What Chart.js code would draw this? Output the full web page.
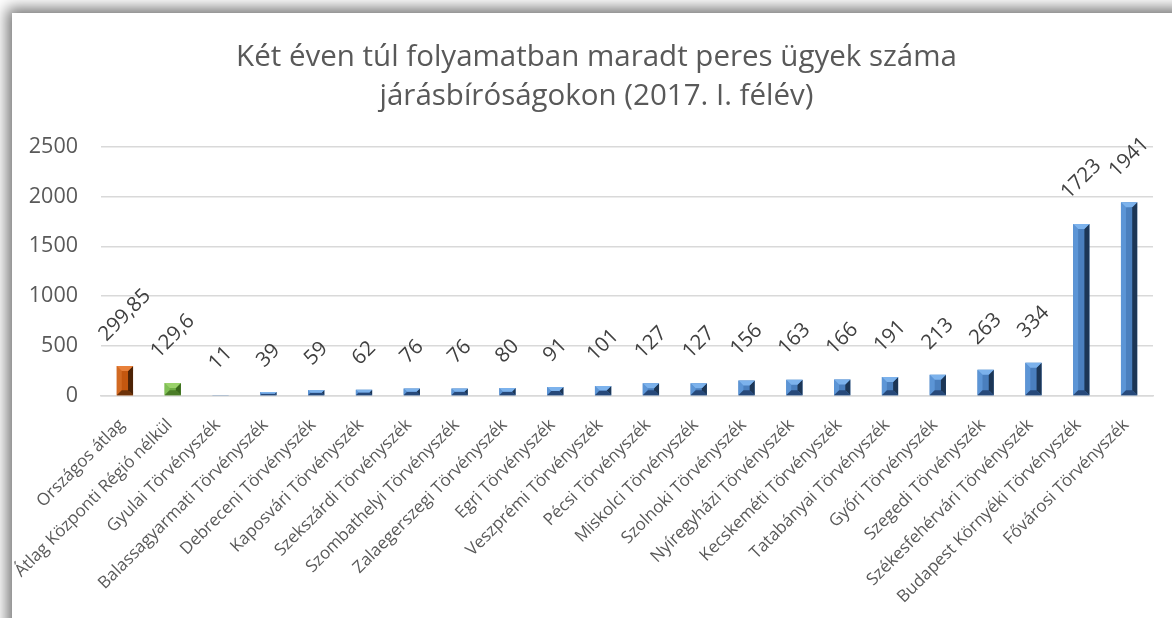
<!DOCTYPE html>
<html>
<head>
<meta charset="utf-8">
<script src="https://cdn.jsdelivr.net/npm/chart.js@4.4.1/dist/chart.umd.min.js"></script>
<style>
  html, body { margin: 0; padding: 0; background: #ffffff; overflow: hidden; }
  #card { position: absolute; left: 12px; top: 13px; width: 1200px; height: 650px; background: #fff;
          box-shadow: -2px -2px 14px 3px rgba(0,0,0,0.55); }
  #c { position: absolute; left: 0; top: 0; }
</style>
</head>
<body>
<div id="card"></div>
<canvas id="c" width="1172" height="618"></canvas>
<script>
const titleLines = ["Két éven túl folyamatban maradt peres ügyek száma", "járásbíróságokon (2017. I. félév)"];
const categories = [
  "Országos átlag",
  "Átlag Központi Régió nélkül",
  "Gyulai Törvényszék",
  "Balassagyarmati Törvényszék",
  "Debreceni Törvényszék",
  "Kaposvári Törvényszék",
  "Szekszárdi Törvényszék",
  "Szombathelyi Törvényszék",
  "Zalaegerszegi Törvényszék",
  "Egri Törvényszék",
  "Veszprémi Törvényszék",
  "Pécsi Törvényszék",
  "Miskolci Törvényszék",
  "Szolnoki Törvényszék",
  "Nyíregyházi Törvényszék",
  "Kecskeméti Törvényszék",
  "Tatabányai Törvényszék",
  "Győri Törvényszék",
  "Szegedi Törvényszék",
  "Székesfehérvári Törvényszék",
  "Budapest Környéki Törvényszék",
  "Fővárosi Törvényszék"
];
const values = [299.85, 129.6, 11, 39, 59, 62, 76, 76, 80, 91, 101, 127, 127, 156, 163, 166, 191, 213, 263, 334, 1723, 1941];
const yTicks = [0, 500, 1000, 1500, 2000, 2500];

// colour schemes: [mid, top, left, right, bottom]
const schemes = {
  orange: ["#c4570f", "#e8803a", "#d26a22", "#4d2306", "#6e3309"],
  green:  ["#6fae45", "#9ad26a", "#80c055", "#3a6a1c", "#4b7d28"],
  blue:   ["#4a7fbe", "#7cb2ec", "#5c95d6", "#1c3656", "#27497a"]
};
const barScheme = categories.map((c, i) => i === 0 ? "orange" : (i === 1 ? "green" : "blue"));

const titlePlugin = {
  id: 'cardTitle',
  afterDraw(chart) {
    const ctx = chart.ctx;
    ctx.save();
    ctx.font = '29.5px "Open Sans"';
    ctx.fillStyle = '#595959';
    ctx.textAlign = 'center';
    ctx.textBaseline = 'middle';
    const cx = 596.5;
    titleLines.forEach((line, k) => ctx.fillText(line, cx, 58 + k * 39));
    ctx.restore();
  }
};

const bevelPlugin = {
  id: 'bevelAndLabels',
  afterDatasetsDraw(chart) {
    const ctx = chart.ctx;
    const meta = chart.getDatasetMeta(0);
    meta.data.forEach((bar, i) => {
      const p = bar.getProps(['x', 'y', 'base', 'width'], true);
      const l = p.x - p.width / 2, r = p.x + p.width / 2, t = p.y, b = p.base;
      const h = b - t;
      const s = schemes[barScheme[i]];
      const bv = Math.min(5, p.width / 2, h / 2);
      ctx.save();
      if (h > 0.5) {
        const poly = (pts, col) => {
          ctx.beginPath();
          ctx.moveTo(pts[0][0], pts[0][1]);
          for (let k = 1; k < pts.length; k++) ctx.lineTo(pts[k][0], pts[k][1]);
          ctx.closePath();
          ctx.fillStyle = col;
          ctx.fill();
        };
        poly([[l, t], [l + bv, t + bv], [l + bv, b - bv], [l, b]], s[2]);
        poly([[r, t], [r - bv, t + bv], [r - bv, b - bv], [r, b]], s[3]);
        poly([[l, b], [l + bv, b - bv], [r - bv, b - bv], [r, b]], s[4]);
        poly([[l, t], [r, t], [r - bv, t + bv], [l + bv, t + bv]], s[1]);
      }
      // data label
      const txt = String(values[i]).replace('.', ',');
      ctx.font = '20.5px "Open Sans"';
      const w = ctx.measureText(txt).width;
      const th = 15;
      const half = (w + th) * Math.SQRT1_2 / 2;
      const cx = p.x, cy = t - 23 - half;
      ctx.translate(cx, cy);
      ctx.rotate(-Math.PI / 4);
      ctx.fillStyle = '#404040';
      ctx.textAlign = 'center';
      ctx.textBaseline = 'middle';
      ctx.fillText(txt, 0, 0);
      ctx.restore();
    });
  }
};

new Chart(document.getElementById('c'), {
  type: 'bar',
  data: {
    labels: categories,
    datasets: [{
      data: values,
      backgroundColor: barScheme.map(k => schemes[k][0]),
      borderWidth: 0,
      barPercentage: 0.34,
      categoryPercentage: 1.0
    }]
  },
  options: {
    responsive: false,
    animation: false,
    layout: { padding: { left: 0, right: 19, top: 146.5, bottom: 0 } },
    plugins: {
      legend: { display: false },
      tooltip: { enabled: false },
      title: { display: false }
    },
    scales: {
      x: {
        grid: { display: false },
        border: { display: true, color: '#d9d9d9', width: 1.5 },
        ticks: {
          autoSkip: false, minRotation: 45, maxRotation: 45, labelOffset: -3,
          color: '#595959', font: { family: 'Open Sans', size: 17 }, padding: 11
        },
        afterFit(s) { s.height = 222; s.paddingLeft = 0; s.paddingRight = 0; }
      },
      y: {
        min: 0, max: 2500,
        afterBuildTicks(s) { s.ticks = yTicks.map(v => ({ value: v })); },
        grid: { color: '#d9d9d9', lineWidth: 1.5, drawTicks: false },
        border: { display: false },
        ticks: {
          color: '#595959', font: { family: 'Open Sans', size: 21.5 }, padding: 23,
          callback: (v) => String(v)
        },
        afterFit(s) { s.width = 101; s.paddingTop = 0; s.paddingBottom = 0; }
      }
    }
  },
  plugins: [bevelPlugin, titlePlugin]
});
</script>
</body>
</html>
